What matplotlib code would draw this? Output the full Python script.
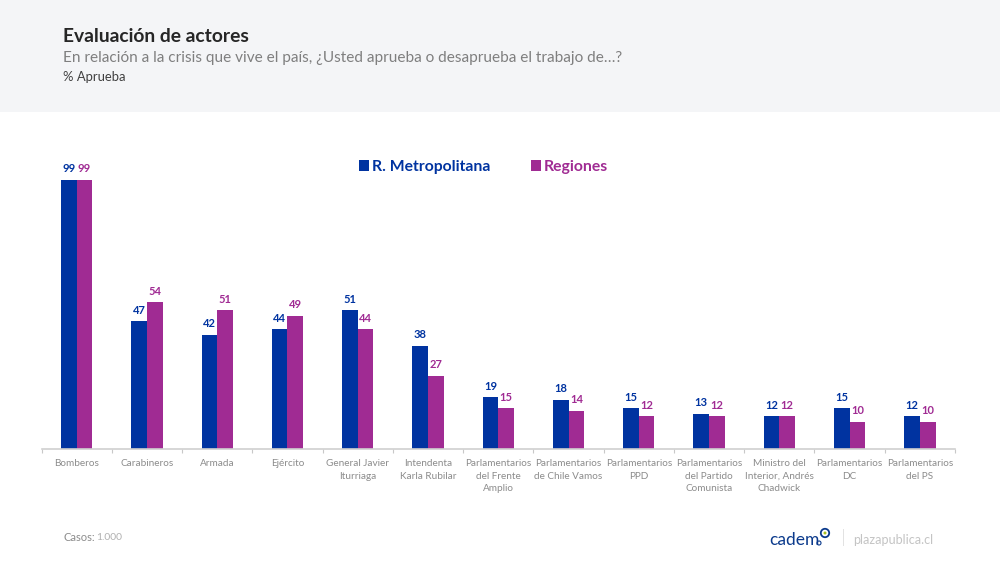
#!/usr/bin/env python3
# -*- coding: utf-8 -*-
import matplotlib
matplotlib.use("Agg")
import numpy as np
import matplotlib.pyplot as plt
from matplotlib.patches import Rectangle, Circle

plt.rcParams['font.family'] = ['Lato', 'DejaVu Sans']

# Data
categories = ["Bomberos", "Carabineros", "Armada", "Ejército", "General Javier\nIturriaga",
              "Intendenta\nKarla Rubilar", "Parlamentarios\ndel Frente\nAmplio",
              "Parlamentarios\nde Chile Vamos", "Parlamentarios\nPPD",
              "Parlamentarios\ndel Partido\nComunista", "Ministro del\nInterior, Andrés\nChadwick",
              "Parlamentarios\nDC", "Parlamentarios\ndel PS"]
metropolitana = [99, 47, 42, 44, 51, 38, 19, 18, 15, 13, 12, 15, 12]
regiones = [99, 54, 51, 49, 44, 27, 15, 14, 12, 12, 12, 10, 10]

blue = "#0033A0"
purple = "#A02B93"
W, H = 1000, 563

fig = plt.figure(figsize=(10, 5.63), dpi=100)

# header band
fig.patches.append(Rectangle((0, 1 - 112 / H), 1, 112 / H, transform=fig.transFigure,
                             facecolor="#F4F5F7", edgecolor="none"))
fig.text(63 / W, 1 - 36 / H, "Evaluación de actores", fontsize=13.9, fontweight="bold",
         color="#262626", va="center")
fig.text(63 / W, 1 - 58 / H, "En relación a la crisis que vive el país, ¿Usted aprueba o desaprueba el trabajo de…?",
         fontsize=11.05, color="#7F7F7F", va="center")
fig.text(63 / W, 1 - 77 / H, "% Aprueba", fontsize=9.4, color="#404040", va="center")

# chart area: baseline at y=449, 2.72 px per point
ax = fig.add_axes([41.5 / W, 1 - 449 / H, 913.5 / W, 299 / H])
x = np.arange(len(categories))
bar_w = 0.223
ax.bar(x - bar_w / 2, metropolitana, bar_w, color=blue, label="R. Metropolitana")
ax.bar(x + bar_w / 2, regiones, bar_w, color=purple, label="Regiones")

for i in range(len(categories)):
    ax.annotate(str(metropolitana[i]), (x[i] - bar_w / 2, metropolitana[i]), xytext=(0, 4),
                textcoords="offset points", ha="center", va="bottom", fontsize=8,
                fontweight="bold", color=blue)
    ax.annotate(str(regiones[i]), (x[i] + bar_w / 2, regiones[i]), xytext=(0, 4),
                textcoords="offset points", ha="center", va="bottom", fontsize=8,
                fontweight="bold", color=purple)

ax.set_xlim(-0.5, len(categories) - 0.5)
ax.set_ylim(0, 299 / 2.72)
ax.set_yticks([])
ax.set_xticks(x)
ax.set_xticklabels(categories, fontsize=7.2, color="#8C8C8C", linespacing=1.55, va="top")
ax.set_xticks(np.arange(len(categories) + 1) - 0.5, minor=True)
ax.tick_params(axis="x", which="major", length=0, pad=7)
ax.tick_params(axis="x", which="minor", length=3, color="#C8C8C8", width=0.8)
for s in ["top", "left", "right"]:
    ax.spines[s].set_visible(False)
ax.spines["bottom"].set_color("#D0D0D0")
ax.spines["bottom"].set_linewidth(1.2)

leg = ax.legend(loc="center", bbox_to_anchor=((483.5 - 41.5) / 913.5, (449 - 167) / 299), ncol=2,
                frameon=False, handlelength=0.65, handleheight=0.65,
                handletextpad=0.22, columnspacing=2.55, prop={"weight": "bold", "size": 11.3})
leg.get_texts()[0].set_color(blue)
leg.get_texts()[1].set_color(purple)

# footer
fig.text(64 / W, 1 - 537.5 / H, "Casos:", fontsize=8, color="#8C8C8C", va="center")
fig.text(96 / W, 1 - 537.5 / H, "1.000", fontsize=7.4, color="#B0B0B0", va="center")
fig.text(769 / W, 1 - 540 / H, "cadem", fontsize=12.5, color="#0B3A8C", va="center")
fig.patches.append(Circle((8.25, (H - 533) / 100), 0.042, transform=fig.dpi_scale_trans,
                          facecolor="white", edgecolor="#0B3A8C", linewidth=1.3))
fig.patches.append(Circle((8.25, (H - 533) / 100), 0.015, transform=fig.dpi_scale_trans,
                          facecolor="#A8C020", edgecolor="none"))
fig.patches.append(Circle((8.19, (H - 543) / 100), 0.02, transform=fig.dpi_scale_trans,
                          facecolor="white", edgecolor="#0B3A8C", linewidth=0.8))
fig.patches.append(Rectangle((842.5 / W, 1 - 546 / H), 1.2 / W, 17 / H, transform=fig.transFigure,
                             facecolor="#E2E2E2", edgecolor="none"))
fig.text(853 / W, 1 - 540 / H, "plazapublica.cl", fontsize=9.1, color="#C4C4C4", va="center")

fig.savefig("out.png", dpi=100)
